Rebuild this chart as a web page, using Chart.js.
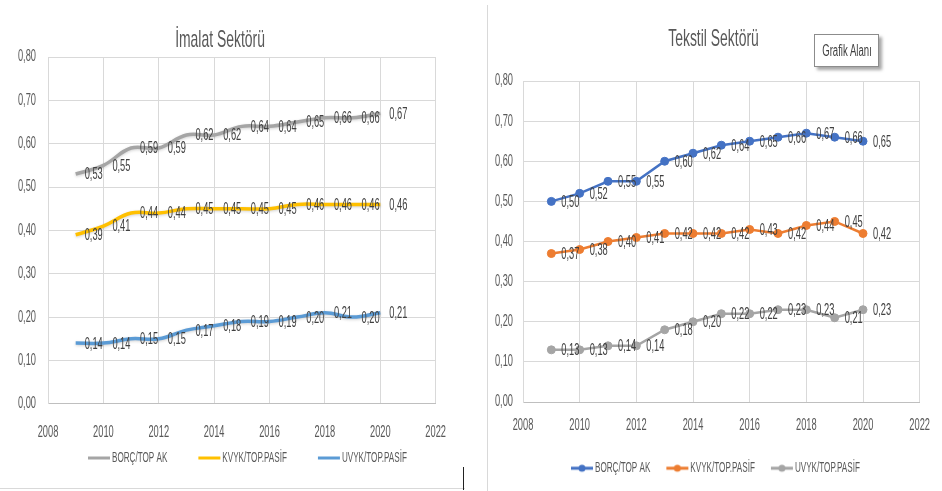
<!DOCTYPE html>
<html lang="tr">
<head>
<meta charset="utf-8">
<title>İmalat ve Tekstil Sektörü</title>
<script src="https://cdn.jsdelivr.net/npm/chart.js@4.4.1/dist/chart.umd.min.js"></script>
<style>
  html, body { margin: 0; padding: 0; background: #fff; }
  body { position: relative; width: 942px; height: 491px; overflow: hidden; }
  #imalatBox { position: absolute; left: 0; top: 0; width: 465px; height: 488px; border-bottom: 1px solid #d9d9d9; overflow: hidden; }
  #tekstilCanvas { position: absolute; left: 494px; top: 0; }
  #divider { position: absolute; left: 487px; top: 5px; width: 1px; height: 486px; background: #d9d9d9; }
  #tick { position: absolute; left: 463px; top: 467px; width: 1px; height: 23px; background: #222; }
  #grafikAlani {
    position: absolute; left: 814px; top: 34px; width: 63px; height: 31px;
    border: 1px solid #8c8c8c; background: #fff;
    box-shadow: 3px 3px 3px rgba(0, 0, 0, 0.35);
    font: 16px 'Liberation Sans', Arial, sans-serif;
    color: #404040; line-height: 31px; white-space: nowrap; overflow: visible;
  }
  #grafikAlani span {
    position: absolute; left: 50%; top: 0;
    transform: translateX(-50%) scaleX(0.6);
  }
</style>
</head>
<body>
<div id="imalatBox"><canvas id="imalatCanvas" width="465" height="499"></canvas></div>
<div id="divider"></div>
<div id="tick"></div>
<canvas id="tekstilCanvas" width="450" height="491"></canvas>
<div id="grafikAlani"><span>Grafik Alanı</span></div>
<script>
// --- data ---
const years = [2009, 2010, 2011, 2012, 2013, 2014, 2015, 2016, 2017, 2018, 2019, 2020]
const seriesLabels = ['BORÇ/TOP AK', 'KVYK/TOP.PASİF', 'UVYK/TOP.PASİF']

const imalatBorc = [0.53, 0.55, 0.59, 0.59, 0.62, 0.62, 0.64, 0.64, 0.65, 0.66, 0.66, 0.67]
const imalatKvyk = [0.39, 0.41, 0.44, 0.44, 0.45, 0.45, 0.45, 0.45, 0.46, 0.46, 0.46, 0.46]
const imalatUvyk = [0.14, 0.14, 0.15, 0.15, 0.17, 0.18, 0.19, 0.19, 0.20, 0.21, 0.20, 0.21]

const tekstilBorc = [0.50, 0.52, 0.55, 0.55, 0.60, 0.62, 0.64, 0.65, 0.66, 0.67, 0.66, 0.65]
const tekstilKvyk = [0.37, 0.38, 0.40, 0.41, 0.42, 0.42, 0.42, 0.43, 0.42, 0.44, 0.45, 0.42]
const tekstilUvyk = [0.13, 0.13, 0.14, 0.14, 0.18, 0.20, 0.22, 0.22, 0.23, 0.23, 0.21, 0.23]

const xMin = 2008
const xMax = 2022
const xStep = 2
const yMin = 0
const yMax = 0.8
const yStep = 0.1

const FONT = "'Liberation Sans', Arial, sans-serif"
const TEXT_SCALE = 0.58 // the source uses a tall, narrow face

function fmt(v) {
  return v.toFixed(2).replace('.', ',')
}

function toPoints(values) {
  return values.map((v, i) => ({ x: years[i], y: v }))
}

// legend sample: line (optionally with a marker) drawn into a small canvas
function legendIcon(color, boxW, lead, marker) {
  const cx = boxW / 2
  const half = Math.max(cx - lead, lead + 22 - cx) + 2
  const c = document.createElement('canvas')
  c.width = Math.round(half * 2)
  c.height = 10
  const g = c.getContext('2d')
  const x0 = lead - cx + c.width / 2
  g.strokeStyle = color
  g.lineWidth = 3
  g.beginPath()
  g.moveTo(x0, 5)
  g.lineTo(x0 + 22, 5)
  g.stroke()
  if (marker) {
    g.fillStyle = color
    g.beginPath()
    g.arc(x0 + 11, 5, 3.5, 0, Math.PI * 2)
    g.fill()
  }
  return c
}

// squeeze all canvas text horizontally (and measure it the same way)
const narrowText = {
  id: 'narrowText',
  beforeInit(chart) {
    const ctx = chart.ctx
    const fill = ctx.fillText.bind(ctx)
    const measure = ctx.measureText.bind(ctx)
    ctx.fillText = function (text, x, y) {
      ctx.save()
      ctx.translate(x, y)
      ctx.scale(TEXT_SCALE, 1)
      fill(text, 0, 0)
      ctx.restore()
    }
    ctx.measureText = function (text) {
      const m = measure(text)
      return {
        width: m.width * TEXT_SCALE,
        actualBoundingBoxAscent: m.actualBoundingBoxAscent,
        actualBoundingBoxDescent: m.actualBoundingBoxDescent,
        actualBoundingBoxLeft: m.actualBoundingBoxLeft * TEXT_SCALE,
        actualBoundingBoxRight: m.actualBoundingBoxRight * TEXT_SCALE
      }
    }
  }
}

// value labels to the right of each point
const pointLabels = {
  id: 'pointLabels',
  afterDatasetsDraw(chart, args, opts) {
    const ctx = chart.ctx
    ctx.save()
    ctx.font = '16px ' + FONT
    ctx.fillStyle = '#404040'
    ctx.textAlign = 'left'
    ctx.textBaseline = 'middle'
    chart.data.datasets.forEach((ds, i) => {
      const meta = chart.getDatasetMeta(i)
      meta.data.forEach((pt, j) => {
        ctx.fillText(fmt(ds.data[j].y), pt.x + opts.dx, pt.y + opts.dy)
      })
    })
    ctx.restore()
  }
}

// soft shadow under the smoothed lines
const lineGlow = {
  id: 'lineGlow',
  beforeDatasetDraw(chart, args, opts) {
    if (!opts.blur) return
    const ctx = chart.ctx
    ctx.save()
    ctx.shadowColor = opts.color
    ctx.shadowBlur = opts.blur
    ctx.shadowOffsetY = opts.offsetY || 0
  },
  afterDatasetDraw(chart, args, opts) {
    if (!opts.blur) return
    chart.ctx.restore()
  }
}

// move the legend box after layout
const legendOffset = {
  id: 'legendOffset',
  afterLayout(chart, args, opts) {
    const lg = chart.legend
    if (!lg) return
    lg.left += opts.x || 0
    lg.right += opts.x || 0
    lg.top += opts.y || 0
    lg.bottom += opts.y || 0
  }
}

function buildOptions(cfg) {
  return {
    responsive: false,
    animation: false,
    events: [],
    layout: { padding: cfg.padding },
    plugins: {
      title: {
        display: true,
        text: cfg.title,
        color: '#595959',
        font: { family: FONT, size: 24, weight: 'normal', lineHeight: 1.2 },
        padding: cfg.titlePadding
      },
      legend: {
        position: 'bottom',
        align: 'start',
        labels: {
          color: '#595959',
          font: { family: FONT, size: 14 },
          usePointStyle: true,
          pointStyleWidth: cfg.boxW,
          padding: 14,
          generateLabels(chart) {
            const items = Chart.defaults.plugins.legend.labels.generateLabels(chart)
            items.forEach((it, i) => {
              it.pointStyle = cfg.icons[i]
            })
            return items
          }
        }
      },
      tooltip: { enabled: false },
      pointLabels: { dx: cfg.labelDx, dy: 1 },
      lineGlow: cfg.glow,
      legendOffset: cfg.legendShift
    },
    scales: {
      x: {
        type: 'linear',
        min: xMin,
        max: xMax,
        grid: { color: '#d9d9d9', drawTicks: false },
        border: { color: '#bfbfbf' },
        ticks: {
          stepSize: xStep,
          padding: cfg.xPad,
          color: '#595959',
          font: { family: FONT, size: 16 },
          callback: (v) => String(v)
        }
      },
      y: {
        min: yMin,
        max: yMax,
        grid: { color: '#d9d9d9', drawTicks: false },
        border: { color: '#d9d9d9' },
        ticks: {
          stepSize: yStep,
          padding: cfg.yPad,
          color: '#595959',
          font: { family: FONT, size: 16 },
          callback: (v) => fmt(v)
        },
        afterFit(scale) {
          scale.width = cfg.yWidth
        }
      }
    }
  }
}

// --- İmalat Sektörü (smoothed lines) ---
const imalatColors = ['#a5a5a5', '#ffc000', '#5b9bd5']
const imalatValues = [imalatBorc, imalatKvyk, imalatUvyk]

new Chart(document.getElementById('imalatCanvas'), {
  type: 'line',
  data: {
    datasets: imalatValues.map((vals, i) => ({
      label: seriesLabels[i],
      data: toPoints(vals),
      borderColor: imalatColors[i],
      backgroundColor: imalatColors[i],
      borderWidth: 3.5,
      pointRadius: 0,
      tension: 0.4
    }))
  },
  options: buildOptions({
    title: 'İmalat Sektörü',
    padding: { left: 0, right: 25, top: 0, bottom: 0 },
    titlePadding: { top: 25.6, bottom: 2.6 },
    boxW: 34,
    icons: imalatColors.map((c) => legendIcon(c, 34, 17, false)),
    labelDx: 9,
    glow: { blur: 3, color: 'rgba(0, 0, 0, 0.18)', offsetY: 1 },
    legendShift: { x: 57, y: -24 },
    xPad: 19,
    yPad: 12,
    yWidth: 48
  }),
  plugins: [narrowText, lineGlow, pointLabels, legendOffset]
})

// --- Tekstil Sektörü (lines with markers) ---
const tekstilColors = ['#4472c4', '#ed7d31', '#a5a5a5']
const tekstilValues = [tekstilBorc, tekstilKvyk, tekstilUvyk]

new Chart(document.getElementById('tekstilCanvas'), {
  type: 'line',
  data: {
    datasets: tekstilValues.map((vals, i) => ({
      label: seriesLabels[i],
      data: toPoints(vals),
      borderColor: tekstilColors[i],
      backgroundColor: tekstilColors[i],
      borderWidth: 2.5,
      pointRadius: 4,
      pointBorderWidth: 1,
      pointStyle: 'circle',
      tension: 0
    }))
  },
  options: buildOptions({
    title: 'Tekstil Sektörü',
    padding: { left: 0, right: 11, top: 0, bottom: 3.8 },
    titlePadding: { top: 24.6, bottom: 27.6 },
    boxW: 19,
    icons: tekstilColors.map((c) => legendIcon(c, 19, 2, true)),
    labelDx: 10,
    glow: { blur: 0 },
    legendShift: { x: 61, y: -2 },
    xPad: 14,
    yPad: 10,
    yWidth: 29
  }),
  plugins: [narrowText, lineGlow, pointLabels, legendOffset]
})
</script>
</body>
</html>
